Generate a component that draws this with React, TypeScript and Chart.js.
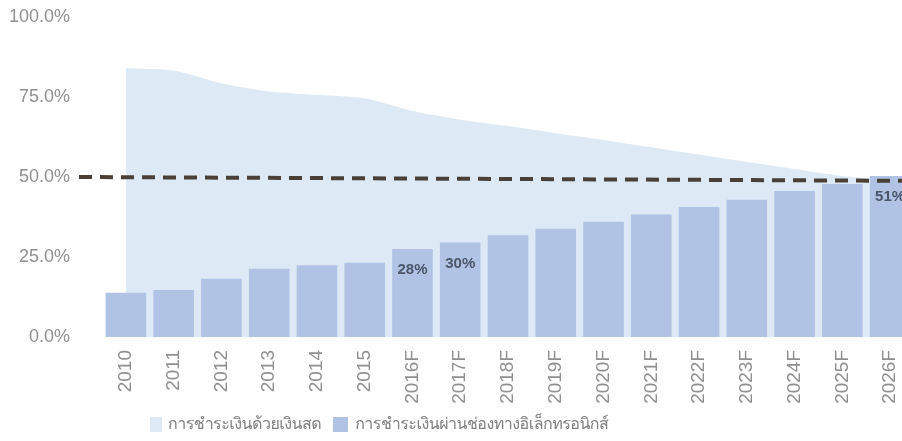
import React, { useEffect, useRef } from "react";
import { Chart, registerables } from "chart.js";

Chart.register(...registerables);

const categories = [
  "2010", "2011", "2012", "2013", "2014", "2015", "2016F", "2017F", "2018F",
  "2019F", "2020F", "2021F", "2022F", "2023F", "2024F", "2025F", "2026F",
];
const cashShare = [
  84.0, 83.3, 79.3, 76.7, 75.6, 74.6, 70.6, 67.9, 65.9, 63.7, 61.6, 59.3,
  57.0, 54.7, 52.5, 50.3, 49.0,
];
const electronicShare = [
  13.8, 14.7, 18.2, 21.3, 22.4, 23.2, 27.5, 29.5, 31.8, 33.8, 36.0, 38.3,
  40.6, 42.9, 45.6, 47.8, 50.3,
];
const barLabels = [
  "", "", "", "", "", "", "28%", "30%", "", "", "", "", "", "", "", "", "51%",
];
const yTickValues = [0, 25, 50, 75, 100];
const thresholdLine = [50, 48.8];
const seriesNames = [
  "การชำระเงินด้วยเงินสด",
  "การชำระเงินผ่านช่องทางอิเล็กทรอนิกส์",
];

const CASH_COLOR = "#dde9f5";
const BAR_COLOR = "#b0c3e4";
const TICK_COLOR = "#909090";

const refLinePlugin = {
  id: "refLine",
  afterDatasetsDraw(chart: any) {
    const { ctx, chartArea, scales } = chart;
    const y = scales.y;
    ctx.save();
    ctx.setLineDash([13, 8]);
    ctx.lineWidth = 4;
    ctx.strokeStyle = "#4a4037";
    ctx.beginPath();
    ctx.moveTo(chartArea.left - 23, y.getPixelForValue(thresholdLine[0]));
    ctx.lineTo(chartArea.right, y.getPixelForValue(thresholdLine[1]));
    ctx.stroke();
    ctx.restore();
  },
};

const barLabelPlugin = {
  id: "barLabels",
  afterDatasetsDraw(chart: any) {
    const { ctx } = chart;
    const meta = chart.getDatasetMeta(1);
    ctx.save();
    ctx.font = "bold 15px 'Liberation Sans', Arial, sans-serif";
    ctx.fillStyle = "#4d5669";
    ctx.textAlign = "center";
    ctx.textBaseline = "middle";
    meta.data.forEach((el: any, i: number) => {
      const t = barLabels[i];
      if (t) ctx.fillText(t, el.x, el.y + 21);
    });
    ctx.restore();
  },
};

export default function App() {
  const canvasRef = useRef<HTMLCanvasElement | null>(null);

  useEffect(() => {
    const canvas = canvasRef.current;
    if (!canvas) return;
    const chart = new Chart(canvas, {
      data: {
        labels: categories,
        datasets: [
          {
            type: "line",
            label: seriesNames[0],
            data: cashShare,
            backgroundColor: CASH_COLOR,
            borderWidth: 0,
            borderColor: CASH_COLOR,
            pointRadius: 0,
            fill: "origin",
            tension: 0.25,
            order: 2,
          },
          {
            type: "bar",
            label: seriesNames[1],
            data: electronicShare,
            backgroundColor: BAR_COLOR,
            categoryPercentage: 1,
            barPercentage: 0.85,
            order: 1,
          },
        ],
      } as any,
      options: {
        responsive: false,
        animation: false,
        devicePixelRatio: 1,
        layout: { padding: { left: 9, top: 17, right: 0, bottom: 0 } },
        plugins: {
          legend: { display: false },
          tooltip: { enabled: false },
        },
        scales: {
          x: {
            offset: true,
            grid: { display: false, drawTicks: false },
            border: { display: false },
            ticks: {
              color: TICK_COLOR,
              font: { size: 19, family: "'Liberation Sans', Arial, sans-serif" },
              minRotation: 90,
              maxRotation: 90,
              padding: 13,
              autoSkip: false,
            },
            afterFit(scale: any) {
              scale.height = 104;
              scale.paddingLeft = 0;
              scale.paddingRight = 0;
            },
          },
          y: {
            min: 0,
            max: 100,
            grid: { display: false, drawTicks: false },
            border: { display: false },
            afterBuildTicks(scale: any) {
              scale.ticks = yTickValues.map((v) => ({ value: v }));
            },
            ticks: {
              color: TICK_COLOR,
              font: { size: 18, family: "'Liberation Sans', Arial, sans-serif" },
              padding: 32,
              callback: (v: any) => `${Number(v).toFixed(1)}%`,
            },
            afterFit(scale: any) {
              scale.width = 93;
              scale.paddingTop = 0;
              scale.paddingBottom = 0;
            },
          },
        },
      },
      plugins: [refLinePlugin, barLabelPlugin],
    });
    return () => chart.destroy();
  }, []);

  const legendFont =
    "Loma, Garuda, 'Noto Sans Thai Looped', 'Noto Sans Thai', 'Noto Sans', sans-serif";

  return (
    <div
      style={{
        position: "relative",
        width: 902,
        height: 441,
        overflow: "hidden",
        background: "#ffffff",
      }}
    >
      <style>{"html,body{margin:0;padding:0;}"}</style>
      <canvas
        ref={canvasRef}
        width={914}
        height={441}
        style={{ position: "absolute", left: 0, top: 0, width: 914, height: 441 }}
      />
      <div
        style={{
          position: "absolute",
          left: 150,
          top: 412,
          display: "flex",
          alignItems: "center",
          fontFamily: legendFont,
          fontSize: 16,
          letterSpacing: "-0.5px",
          color: "#7f7f7f",
          whiteSpace: "nowrap",
          lineHeight: "24px",
        }}
      >
        <span style={{ display: "inline-block", width: 12, height: 15, background: CASH_COLOR, marginRight: 6 }} />
        <span style={{ marginRight: 12 }}>{seriesNames[0]}</span>
        <span style={{ display: "inline-block", width: 15, height: 15, background: BAR_COLOR, marginRight: 7 }} />
        <span>{seriesNames[1]}</span>
      </div>
    </div>
  );
}
